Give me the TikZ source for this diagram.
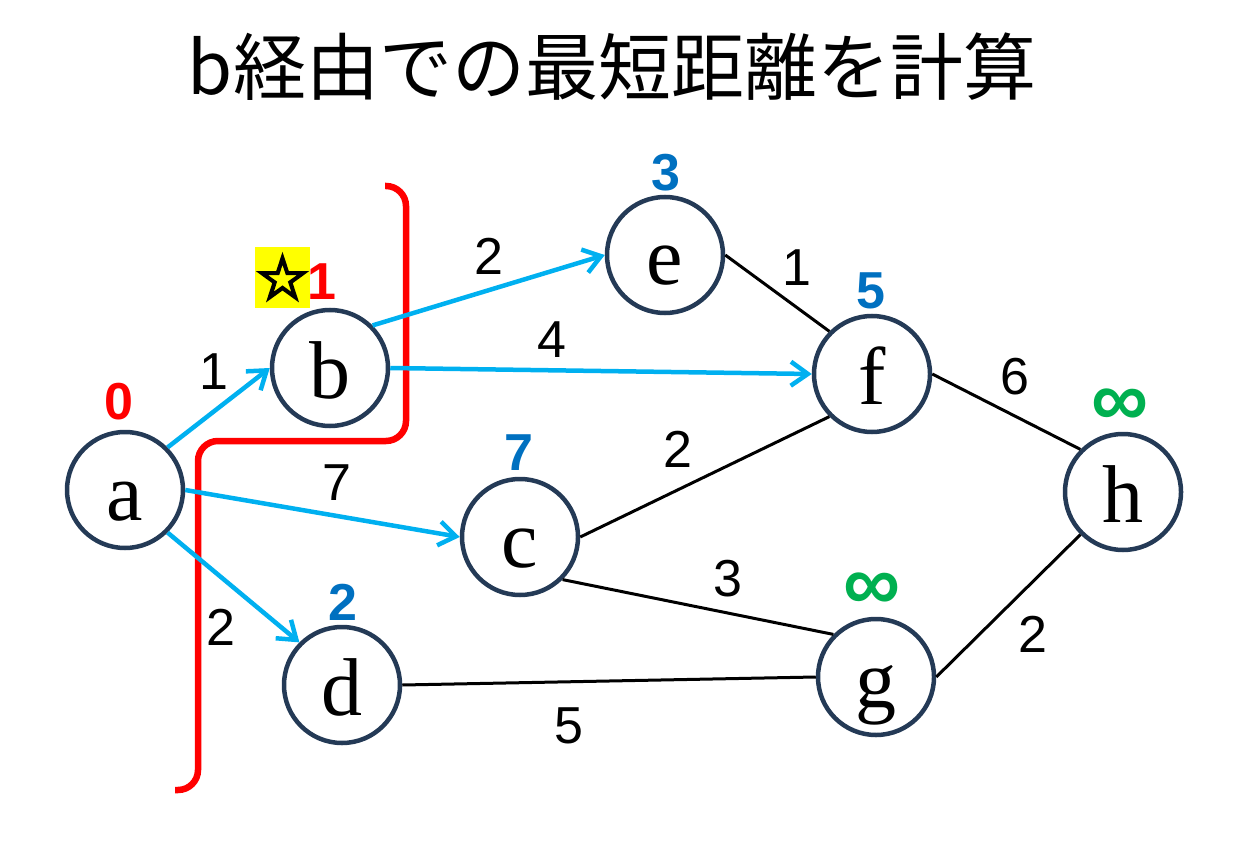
\documentclass[tikz,border=0pt]{standalone}
\usepackage{fontspec}
\usetikzlibrary{arrows.meta}
\newfontfamily\jpfont{Noto Sans CJK JP}
\newfontfamily\letterfont{Liberation Serif}
\newfontfamily\numfont{Liberation Sans}
\newfontfamily\starfont[FakeBold=4]{DejaVu Sans}
\definecolor{nodeline}{HTML}{243A56}
\definecolor{arrowblue}{HTML}{00B0F0}
\definecolor{distblue}{HTML}{0070C0}
\definecolor{distgreen}{HTML}{00B050}
\definecolor{distred}{HTML}{FF0000}
\definecolor{hlyellow}{HTML}{FFFF00}
\begin{document}
\begin{tikzpicture}[x=1pt,y=-1pt,
  vertex/.style={circle, draw=nodeline, fill=white, line width=4.5pt, minimum size=116pt, inner sep=0pt,
    font=\letterfont\fontsize{82}{90}\selectfont, text height=60pt, text depth=0pt},
  wlabel/.style={font=\numfont\fontsize{52}{60}\selectfont, inner sep=0pt},
  dlabel/.style={font=\numfont\bfseries\fontsize{52}{60}\selectfont, inner sep=0pt},
  inflabel/.style={font=\numfont\bfseries\fontsize{80}{80}\selectfont, inner sep=0pt, text=distgreen},
  arrowedge/.style={draw=arrowblue, line width=4.5pt, -{Straight Barb[length=17pt,width=24pt]}},
  plainedge/.style={draw=black, line width=3pt},
  cutline/.style={draw=distred, line width=6.5pt, rounded corners=20pt}
]
\useasboundingbox (0,0) rectangle (1257,858);
\node[font=\jpfont\fontsize{73}{80}\selectfont, inner sep=0pt] (title) at (612,67) {b経由での最短距離を計算};

% vertices
\node[vertex] (a) at (125,490) {a};
\node[vertex] (b) at (330,368) {b};
\node[vertex] (e) at (665,255) {e};
\node[vertex] (f) at (872,374) {f};
\node[vertex] (c) at (520,537) {c};
\node[vertex] (d) at (342,685) {d};
\node[vertex] (g) at (876,677) {g};
\node[vertex] (h) at (1123,492) {h};

% red cut line
\coordinate (cs) at (385,186);
\coordinate (ce) at (175,790);
\draw[cutline] (cs) -- (406,186) -- (406,441) -- (198,441) -- (198,790) -- (ce);

% edges
\draw[plainedge] (e.east) -- (f.north west);
\draw[plainedge] (c.east) -- (f.south west);
\draw[plainedge] (c.south east) -- (g.north west);
\draw[plainedge] (d.east) -- (g.west);
\draw[plainedge] (f.east) -- (h.north west);
\draw[plainedge] (g.east) -- (h.south west);
\draw[arrowedge] (a.north east) -- (b.west);
\draw[arrowedge] (a.east) -- (c.west);
\draw[arrowedge] (a.south east) -- (d.north west);
\draw[arrowedge] (b.north east) -- (e.west);
\draw[arrowedge] (b.east) -- (f.west);

% weights
\node[wlabel] (wab) at (214,372) {1};
\node[wlabel] (wbe) at (489,256) {2};
\node[wlabel] (wbf) at (552,340) {4};
\node[wlabel] (wef) at (797,268) {1};
\node[wlabel] (wac) at (337,483) {7};
\node[wlabel] (wad) at (221,627) {2};
\node[wlabel] (wcf) at (678,449) {2};
\node[wlabel] (wcg) at (728,579) {3};
\node[wlabel] (wdg) at (569,726) {5};
\node[wlabel] (wfh) at (1015,377) {6};
\node[wlabel] (wgh) at (1033,634) {2};

% distances
\node[dlabel, text=distred] (da) at (119,402) {0};
\node[dlabel, text=distred] (db) at (322,282) {1};
\node[dlabel, text=distblue] (de) at (666,173) {3};
\node[dlabel, text=distblue] (df) at (871,291) {5};
\node[dlabel, text=distblue] (dc) at (519,453) {7};
\node[dlabel, text=distblue] (dd) at (343,602) {2};
\node[inflabel] (dg) at (872,592) {∞};
\node[inflabel] (dh) at (1120,408) {∞};

% star marker
\node[fill=hlyellow, minimum width=55pt, minimum height=61pt, inner sep=0pt,
  font=\starfont\fontsize{60}{60}\selectfont] (star) at (282.5,277.5) {☆};
\end{tikzpicture}
\end{document}
